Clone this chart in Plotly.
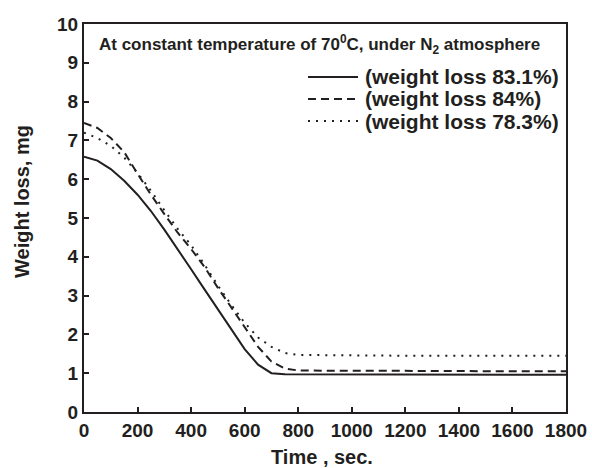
import plotly.graph_objects as go

time_s = [0, 50, 100, 150, 200, 250, 300, 350, 400, 450, 500, 550, 600, 650, 700, 750, 800,
          900, 1000, 1200, 1400, 1600, 1800]
loss_831 = [6.58, 6.48, 6.26, 5.96, 5.6, 5.18, 4.7, 4.2, 3.68, 3.16, 2.64, 2.13, 1.62, 1.22, 1.0, 0.97, 0.97,
            0.97, 0.97, 0.97, 0.97, 0.96, 0.96]
loss_84 = [7.45, 7.32, 7.06, 6.7, 6.14, 5.6, 5.1, 4.62, 4.2, 3.74, 3.2, 2.7, 2.2, 1.68, 1.3, 1.12, 1.07,
           1.06, 1.06, 1.06, 1.05, 1.05, 1.05]
loss_783 = [7.2, 7.06, 6.86, 6.56, 6.16, 5.7, 5.2, 4.72, 4.3, 3.8, 3.26, 2.76, 2.3, 1.92, 1.68, 1.52, 1.47,
            1.46, 1.46, 1.45, 1.45, 1.45, 1.45]
names = ["(weight loss 83.1%)", "(weight loss 84%)", "(weight loss 78.3%)"]
dashes = ["solid", "8px,5px", "2px,6px"]

INK = "#231f20"
FONT = "Liberation Sans, Arial, sans-serif"

W, H = 592, 468
L, R, T, B = 84, 26, 24, 56
PW, PH = W - L - R, H - T - B


def px(xp):
    return (xp - L) / PW


def py(yp):
    return (H - B - yp) / PH


fig = go.Figure()
for y, n, d in zip([loss_831, loss_84, loss_783], names, dashes):
    fig.add_trace(go.Scatter(x=time_s, y=y, mode="lines", name=n, showlegend=False,
                             line=dict(color=INK, width=2, dash=d)))

axis_common = dict(showline=True, linewidth=2, linecolor=INK, mirror=True, ticks="inside",
                   ticklen=5, tickwidth=2, tickcolor=INK, showgrid=False, zeroline=False,
                   automargin=False, tickprefix="<b>", ticksuffix="</b>",
                   tickfont=dict(family=FONT, size=19, color=INK))

fig.update_layout(
    width=W, height=H,
    margin=dict(l=L, r=R, t=T, b=B),
    paper_bgcolor="white", plot_bgcolor="white",
    font=dict(family=FONT, color=INK),
    xaxis=dict(range=[0, 1800], dtick=200, tick0=0, **axis_common),
    yaxis=dict(range=[0, 10], dtick=1, tick0=0, **axis_common),
    showlegend=False,
)

# axis titles
fig.add_annotation(x=px(322), y=py(457), xref="paper", yref="paper", xanchor="center", yanchor="middle",
                   text="<b>Time , sec.</b>", showarrow=False, font=dict(family=FONT, size=20, color=INK))
fig.add_annotation(x=px(22), y=py(202), xref="paper", yref="paper", xanchor="center", yanchor="middle",
                   text="<b>Weight loss, mg</b>", textangle=-90, showarrow=False,
                   font=dict(family=FONT, size=20, color=INK))

# header text
fig.add_annotation(x=px(97), y=py(44), xref="paper", yref="paper", xanchor="left", yanchor="middle",
                   text="<b>At constant temperature of 70<sup>0</sup>C, under N<sub>2</sub> atmosphere</b>",
                   showarrow=False, font=dict(family=FONT, size=17, color=INK))

# manual legend
rows = [77, 99, 121]
for n, d, yr in zip(names, dashes, rows):
    fig.add_shape(type="line", xref="paper", yref="paper", x0=px(308), x1=px(358), y0=py(yr), y1=py(yr),
                  line=dict(color=INK, width=2, dash=d))
    fig.add_annotation(x=px(363), y=py(yr), xref="paper", yref="paper", xanchor="left", yanchor="middle",
                       text="<b>" + n + "</b>", showarrow=False, font=dict(family=FONT, size=21, color=INK))

fig.write_html("out.html")
